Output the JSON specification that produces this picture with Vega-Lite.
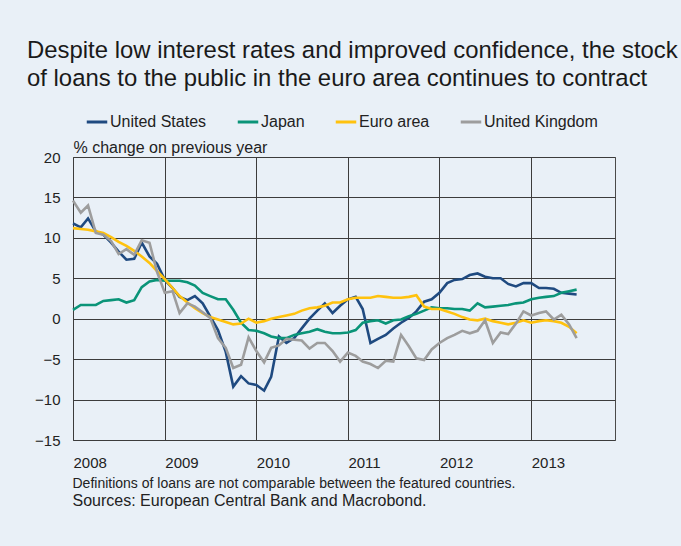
{
  "$schema": "https://vega.github.io/schema/vega-lite/v6.json",
  "width": 542,
  "height": 283,
  "autosize": {"type": "none"},
  "padding": {"left": 73, "top": 157, "right": 66, "bottom": 106},
  "background": "#e9f0f7",
  "config": {
    "font": "Liberation Sans",
    "view": {"stroke": "#4a4a4a", "strokeWidth": 1}
  },
  "title": {
    "text": ["Despite low interest rates and improved confidence, the stock", "of loans to the public in the euro area continues to contract"],
    "anchor": "start",
    "frame": "group",
    "fontSize": 23.9,
    "fontWeight": "normal",
    "color": "#1a1a1a",
    "lineHeight": 28,
    "dx": -46,
    "offset": 19
  },
  "data": {"values": [
    {"date": "2008-01-01", "United States": 11.8, "Japan": 1.1, "Euro area": 11.2, "United Kingdom": 14.6},
    {"date": "2008-02-01", "United States": 11.3, "Japan": 1.7, "Euro area": 11.1, "United Kingdom": 13.1},
    {"date": "2008-03-01", "United States": 12.4, "Japan": 1.7, "Euro area": 11.0, "United Kingdom": 14.0},
    {"date": "2008-04-01", "United States": 10.8, "Japan": 1.7, "Euro area": 10.8, "United Kingdom": 10.6},
    {"date": "2008-05-01", "United States": 10.4, "Japan": 2.2, "Euro area": 10.6, "United Kingdom": 10.4},
    {"date": "2008-06-01", "United States": 9.4, "Japan": 2.3, "Euro area": 10.1, "United Kingdom": 9.6},
    {"date": "2008-07-01", "United States": 8.3, "Japan": 2.4, "Euro area": 9.5, "United Kingdom": 8.0},
    {"date": "2008-08-01", "United States": 7.3, "Japan": 2.0, "Euro area": 9.0, "United Kingdom": 8.6},
    {"date": "2008-09-01", "United States": 7.4, "Japan": 2.3, "Euro area": 8.4, "United Kingdom": 7.9},
    {"date": "2008-10-01", "United States": 9.4, "Japan": 3.9, "Euro area": 7.7, "United Kingdom": 9.7},
    {"date": "2008-11-01", "United States": 7.7, "Japan": 4.6, "Euro area": 6.9, "United Kingdom": 9.4},
    {"date": "2008-12-01", "United States": 6.8, "Japan": 4.8, "Euro area": 5.9, "United Kingdom": 5.8},
    {"date": "2009-01-01", "United States": 4.8, "Japan": 4.7, "Euro area": 4.9, "United Kingdom": 3.2},
    {"date": "2009-02-01", "United States": 3.8, "Japan": 4.7, "Euro area": 3.8, "United Kingdom": 3.4},
    {"date": "2009-03-01", "United States": 2.7, "Japan": 4.7, "Euro area": 2.8, "United Kingdom": 0.7},
    {"date": "2009-04-01", "United States": 2.3, "Japan": 4.5, "Euro area": 2.0, "United Kingdom": 1.9},
    {"date": "2009-05-01", "United States": 2.8, "Japan": 4.1, "Euro area": 1.3, "United Kingdom": 1.5},
    {"date": "2009-06-01", "United States": 1.9, "Japan": 3.2, "Euro area": 0.7, "United Kingdom": 0.8},
    {"date": "2009-07-01", "United States": 0.3, "Japan": 2.8, "Euro area": 0.2, "United Kingdom": 0.1},
    {"date": "2009-08-01", "United States": -1.4, "Japan": 2.4, "Euro area": -0.1, "United Kingdom": -2.4},
    {"date": "2009-09-01", "United States": -4.1, "Japan": 2.4, "Euro area": -0.4, "United Kingdom": -3.6},
    {"date": "2009-10-01", "United States": -8.4, "Japan": 1.1, "Euro area": -0.7, "United Kingdom": -6.1},
    {"date": "2009-11-01", "United States": -7.1, "Japan": -0.5, "Euro area": -0.6, "United Kingdom": -5.7},
    {"date": "2009-12-01", "United States": -8.0, "Japan": -1.4, "Euro area": 0.0, "United Kingdom": -2.3},
    {"date": "2010-01-01", "United States": -8.2, "Japan": -1.5, "Euro area": -0.5, "United Kingdom": -4.0},
    {"date": "2010-02-01", "United States": -8.9, "Japan": -1.8, "Euro area": -0.3, "United Kingdom": -5.4},
    {"date": "2010-03-01", "United States": -7.2, "Japan": -2.2, "Euro area": 0.0, "United Kingdom": -3.6},
    {"date": "2010-04-01", "United States": -2.2, "Japan": -2.4, "Euro area": 0.2, "United Kingdom": -3.3},
    {"date": "2010-05-01", "United States": -3.0, "Japan": -2.4, "Euro area": 0.4, "United Kingdom": -2.5},
    {"date": "2010-06-01", "United States": -2.4, "Japan": -2.0, "Euro area": 0.6, "United Kingdom": -2.6},
    {"date": "2010-07-01", "United States": -1.2, "Japan": -1.8, "Euro area": 1.0, "United Kingdom": -2.7},
    {"date": "2010-08-01", "United States": 0.0, "Japan": -1.6, "Euro area": 1.3, "United Kingdom": -3.7},
    {"date": "2010-09-01", "United States": 1.0, "Japan": -1.3, "Euro area": 1.4, "United Kingdom": -3.0},
    {"date": "2010-10-01", "United States": 1.9, "Japan": -1.6, "Euro area": 1.6, "United Kingdom": -3.0},
    {"date": "2010-11-01", "United States": 0.7, "Japan": -1.8, "Euro area": 2.0, "United Kingdom": -4.0},
    {"date": "2010-12-01", "United States": 1.6, "Japan": -1.8, "Euro area": 2.0, "United Kingdom": -5.3},
    {"date": "2011-01-01", "United States": 2.4, "Japan": -1.7, "Euro area": 2.4, "United Kingdom": -4.2},
    {"date": "2011-02-01", "United States": 2.7, "Japan": -1.4, "Euro area": 2.6, "United Kingdom": -4.6},
    {"date": "2011-03-01", "United States": 1.2, "Japan": -0.5, "Euro area": 2.6, "United Kingdom": -5.3},
    {"date": "2011-04-01", "United States": -3.0, "Japan": -0.3, "Euro area": 2.6, "United Kingdom": -5.6},
    {"date": "2011-05-01", "United States": -2.5, "Japan": -0.2, "Euro area": 2.8, "United Kingdom": -6.1},
    {"date": "2011-06-01", "United States": -2.0, "Japan": -0.6, "Euro area": 2.7, "United Kingdom": -5.2},
    {"date": "2011-07-01", "United States": -1.2, "Japan": -0.2, "Euro area": 2.6, "United Kingdom": -5.3},
    {"date": "2011-08-01", "United States": -0.5, "Japan": -0.1, "Euro area": 2.6, "United Kingdom": -2.0},
    {"date": "2011-09-01", "United States": 0.1, "Japan": 0.3, "Euro area": 2.7, "United Kingdom": -3.4},
    {"date": "2011-10-01", "United States": 0.9, "Japan": 0.6, "Euro area": 2.9, "United Kingdom": -4.9},
    {"date": "2011-11-01", "United States": 2.1, "Japan": 1.0, "Euro area": 1.5, "United Kingdom": -5.1},
    {"date": "2011-12-01", "United States": 2.4, "Japan": 1.4, "Euro area": 1.2, "United Kingdom": -3.8},
    {"date": "2012-01-01", "United States": 3.2, "Japan": 1.3, "Euro area": 1.2, "United Kingdom": -3.0},
    {"date": "2012-02-01", "United States": 4.4, "Japan": 1.3, "Euro area": 0.9, "United Kingdom": -2.4},
    {"date": "2012-03-01", "United States": 4.8, "Japan": 1.2, "Euro area": 0.6, "United Kingdom": -2.0},
    {"date": "2012-04-01", "United States": 4.9, "Japan": 1.2, "Euro area": 0.2, "United Kingdom": -1.5},
    {"date": "2012-05-01", "United States": 5.4, "Japan": 1.0, "Euro area": -0.1, "United Kingdom": -1.8},
    {"date": "2012-06-01", "United States": 5.6, "Japan": 1.9, "Euro area": -0.2, "United Kingdom": -1.5},
    {"date": "2012-07-01", "United States": 5.2, "Japan": 1.4, "Euro area": 0.0, "United Kingdom": -0.2},
    {"date": "2012-08-01", "United States": 5.0, "Japan": 1.5, "Euro area": -0.3, "United Kingdom": -3.0},
    {"date": "2012-09-01", "United States": 5.0, "Japan": 1.6, "Euro area": -0.5, "United Kingdom": -1.7},
    {"date": "2012-10-01", "United States": 4.3, "Japan": 1.7, "Euro area": -0.7, "United Kingdom": -1.9},
    {"date": "2012-11-01", "United States": 4.0, "Japan": 1.9, "Euro area": -0.5, "United Kingdom": -0.6},
    {"date": "2012-12-01", "United States": 4.4, "Japan": 2.0, "Euro area": -0.2, "United Kingdom": 0.9},
    {"date": "2013-01-01", "United States": 4.4, "Japan": 2.4, "Euro area": -0.5, "United Kingdom": 0.4},
    {"date": "2013-02-01", "United States": 3.8, "Japan": 2.6, "Euro area": -0.3, "United Kingdom": 0.7},
    {"date": "2013-03-01", "United States": 3.8, "Japan": 2.7, "Euro area": -0.2, "United Kingdom": 0.9},
    {"date": "2013-04-01", "United States": 3.7, "Japan": 2.8, "Euro area": -0.3, "United Kingdom": -0.1},
    {"date": "2013-05-01", "United States": 3.2, "Japan": 3.2, "Euro area": -0.5, "United Kingdom": 0.5},
    {"date": "2013-06-01", "United States": 3.1, "Japan": 3.4, "Euro area": -1.0, "United Kingdom": -0.7},
    {"date": "2013-07-01", "United States": 3.0, "Japan": 3.6, "Euro area": -1.8, "United Kingdom": -2.4}
  ]},
  "transform": [
    {"fold": ["United States", "Japan", "Euro area", "United Kingdom"], "as": ["country", "value"]}
  ],
  "encoding": {
    "x": {
      "field": "date",
      "type": "temporal",
      "scale": {
        "type": "utc",
        "domain": [{"year": 2008, "month": 1, "date": 1, "utc": true}, {"year": 2013, "month": 12, "date": 1, "utc": true}]
      },
      "axis": {
        "values": [
          {"year": 2008, "month": 1, "date": 1, "utc": true},
          {"year": 2009, "month": 1, "date": 1, "utc": true},
          {"year": 2010, "month": 1, "date": 1, "utc": true},
          {"year": 2011, "month": 1, "date": 1, "utc": true},
          {"year": 2012, "month": 1, "date": 1, "utc": true},
          {"year": 2013, "month": 1, "date": 1, "utc": true}
        ],
        "format": "%Y",
        "grid": true,
        "gridColor": "#3c3c3c",
        "gridOpacity": 1,
        "ticks": false,
        "domain": false,
        "labelAlign": "left",
        "labelFlush": false,
        "labelPadding": 15,
        "labelFontSize": 15,
        "labelColor": "#222222",
        "title": "Definitions of loans are not comparable between the featured countries.",
        "titleFontSize": 14,
        "titleFontWeight": "normal",
        "titleColor": "#222222",
        "titleAlign": "left",
        "titleAnchor": "start",
        "titleBaseline": "alphabetic",
        "titleX": -1,
        "titleY": 47
      }
    }
  },
  "layer": [
    {
      "mark": {"type": "line", "strokeWidth": 2.6},
      "encoding": {
        "y": {
          "field": "value",
          "type": "quantitative",
          "scale": {"domain": [-15, 20], "nice": false, "zero": false},
          "axis": {
            "values": [-15, -10, -5, 0, 5, 10, 15, 20],
            "grid": true,
            "gridColor": "#3c3c3c",
            "gridOpacity": 1,
            "ticks": false,
            "domain": false,
            "labelPadding": 13,
            "labelFontSize": 15,
            "labelColor": "#222222",
            "title": "% change on previous year",
            "titleFontSize": 16,
            "titleFontWeight": "normal",
            "titleColor": "#222222",
            "titleAngle": 0,
            "titleAlign": "left",
            "titleBaseline": "alphabetic",
            "titleX": 0,
            "titleY": -5
          }
        },
        "color": {
          "field": "country",
          "type": "nominal",
          "scale": {
            "domain": ["United States", "Japan", "Euro area", "United Kingdom"],
            "range": ["#1f4a80", "#0a9478", "#ffc20e", "#9d9d9d"]
          },
          "legend": {
            "orient": "none",
            "legendX": 12,
            "legendY": -47,
            "direction": "horizontal",
            "title": null,
            "symbolType": "stroke",
            "symbolStrokeWidth": 3,
            "symbolSize": 420,
            "labelFontSize": 16,
            "labelColor": "#222222",
            "labelOffset": 1,
            "columnPadding": 24
          }
        }
      }
    },
    {
      "mark": {"type": "point", "opacity": 0},
      "encoding": {
        "y": {
          "field": "value",
          "type": "quantitative",
          "axis": {
            "orient": "right",
            "labels": false,
            "ticks": false,
            "domain": false,
            "grid": false,
            "title": "Sources: European Central Bank and Macrobond.",
            "titleFontSize": 16,
            "titleFontWeight": "normal",
            "titleColor": "#222222",
            "titleAngle": 0,
            "titleAlign": "left",
            "titleBaseline": "alphabetic",
            "titleX": -543,
            "titleY": 348
          }
        }
      }
    }
  ],
  "resolve": {"axis": {"y": "independent"}}
}
